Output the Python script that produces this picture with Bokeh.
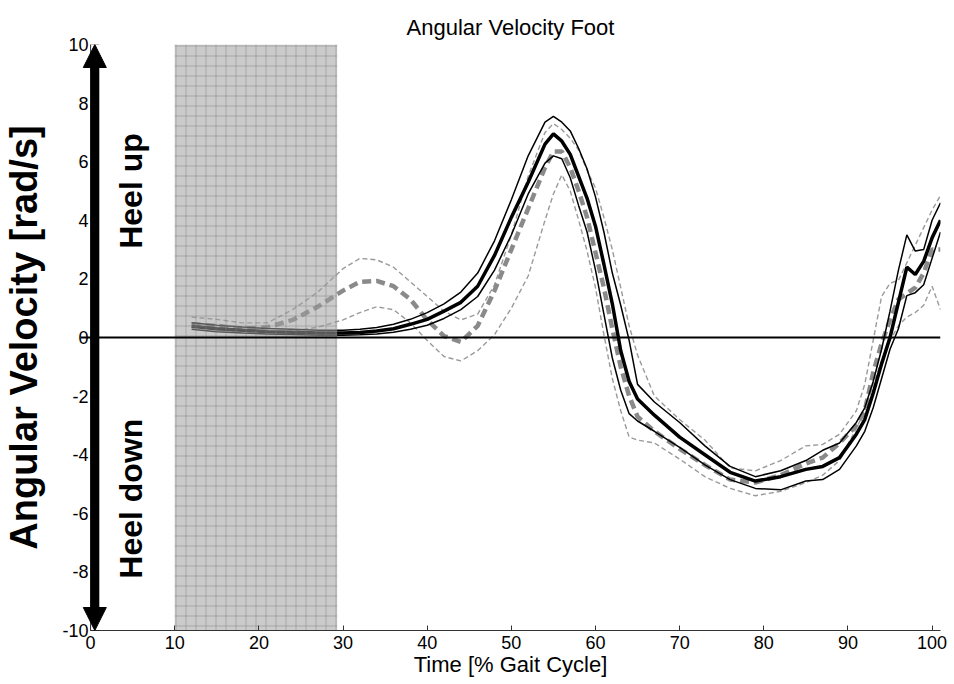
import math
from bokeh.plotting import figure
from bokeh.models import Range1d, Label, Arrow, NormalHead, Span, FixedTicker
from bokeh.embed import file_html
from bokeh.resources import INLINE

# ---- data ----
gait = [12, 15, 18, 21, 24, 27, 30, 32, 34, 36, 38, 40, 42, 44, 46, 48, 50, 52, 54, 55,
        56, 57, 58, 59, 60, 61, 62, 63, 64, 65, 67, 70, 73, 76, 79, 82, 85, 87, 89, 91,
        92, 93, 94, 95, 96, 97, 98, 99, 100, 101]

black_mean = [0.38, 0.30, 0.25, 0.20, 0.18, 0.15, 0.15, 0.17, 0.22, 0.30, 0.45, 0.62, 0.90, 1.20, 1.75, 2.8, 4.1, 5.3, 6.6, 6.95,
              6.7, 6.25, 5.5, 4.75, 3.8, 2.5, 1.15, -0.45, -1.5, -2.1, -2.65, -3.4, -4.0, -4.6, -4.9, -4.75, -4.5, -4.4, -4.1, -3.3,
              -2.8, -1.9, -0.9, 0.0, 1.2, 2.4, 2.15, 2.6, 3.4, 4.0]
black_upper = [0.50, 0.42, 0.36, 0.31, 0.28, 0.25, 0.25, 0.28, 0.34, 0.45, 0.62, 0.85, 1.15, 1.55, 2.2, 3.3, 4.7, 6.2, 7.35, 7.55,
               7.35, 7.05, 6.45, 5.75, 4.8, 3.6, 2.2, 1.1, -0.1, -1.6, -2.2, -2.9, -3.7, -4.4, -4.75, -4.55, -4.2, -3.85, -3.6, -2.9,
               -2.4, -1.5, -0.4, 0.9, 2.3, 3.5, 2.95, 3.0, 4.0, 4.6]
black_lower = [0.28, 0.20, 0.15, 0.12, 0.10, 0.08, 0.08, 0.09, 0.12, 0.18, 0.28, 0.42, 0.65, 0.95, 1.4, 2.3, 3.5, 4.9, 5.95, 6.2,
               6.1, 5.45, 4.5, 3.6, 2.3, 0.8, -0.7, -1.8, -2.6, -2.85, -3.2, -3.75, -4.35, -4.85, -5.15, -5.2, -4.9, -4.85, -4.5, -3.7,
               -3.2, -2.4, -1.4, -0.4, 0.3, 1.43, 1.53, 1.8, 2.7, 3.6]
grey_mean = [0.45, 0.40, 0.30, 0.35, 0.60, 1.05, 1.6, 1.9, 1.93, 1.75, 1.3, 0.6, 0.05, -0.15, 0.4, 1.6, 3.0, 4.4, 5.8, 6.35,
             6.35, 5.8, 5.0, 4.1, 2.9, 1.7, 0.3, -1.0, -2.0, -2.7, -3.2, -3.8, -4.35, -4.85, -4.95, -4.7, -4.3, -4.1, -3.6, -3.0,
             -2.5, -1.2, -0.2, 0.6, 1.3, 1.5, 1.7, 2.2, 3.0, 3.0]
grey_upper = [0.70, 0.62, 0.50, 0.50, 0.95, 1.55, 2.35, 2.7, 2.65, 2.4, 1.9, 1.4, 0.9, 0.6, 0.8, 1.8, 3.5, 5.5, 7.0, 7.3,
              7.1, 6.8, 6.4, 5.7, 5.1, 4.1, 3.0, 1.7, 0.4, -0.6, -2.0, -2.8, -3.5, -4.45, -4.55, -4.2, -3.7, -3.65, -3.3, -2.5,
              -1.6, -0.1, 1.4, 1.85, 1.95, 2.55, 3.15, 3.75, 4.35, 4.85]
grey_lower = [0.35, 0.25, 0.20, 0.18, 0.22, 0.35, 0.6, 0.85, 1.05, 0.95, 0.5, -0.1, -0.65, -0.8, -0.45, 0.1, 1.0, 2.1, 4.0, 4.9,
              5.55, 5.0, 4.0, 2.95, 1.7, 0.1, -1.4, -2.5, -3.4, -3.5, -3.6, -4.15, -4.75, -5.15, -5.4, -5.25, -4.95, -4.7, -4.2, -3.1,
              -2.5, -1.6, -0.8, -0.1, 0.4, 0.7, 0.85, 1.1, 1.75, 0.95]

shade_start, shade_end = 10, 29.3
x_ticks = [0, 10, 20, 30, 40, 50, 60, 70, 80, 90, 100]
y_ticks = [-10, -8, -6, -4, -2, 0, 2, 4, 6, 8, 10]
y_tick_labels = {t: str(t) for t in y_ticks}

FONT = "Liberation Sans"

p = figure(width=954, height=684, output_backend="svg", toolbar_location=None,
           x_range=Range1d(-1.2, 101), y_range=Range1d(-10, 10),
           min_border_left=80, min_border_right=14, min_border_top=44, min_border_bottom=54,
           title="Angular Velocity Foot")
p.background_fill_color = "white"
p.border_fill_color = "white"
p.outline_line_color = None
p.grid.visible = False

p.title.align = "center"
p.title.text_font = FONT
p.title.text_font_style = "normal"
p.title.text_font_size = "22px"
p.title.text_color = "black"

for ax in (p.xaxis[0], p.yaxis[0]):
    ax.major_label_text_font = FONT
    ax.major_label_text_font_size = "18px"
    ax.major_label_text_color = "black"
    ax.axis_line_color = "#333333"
    ax.major_tick_in = 5
    ax.major_tick_out = 0
    ax.minor_tick_in = 0
    ax.minor_tick_out = 0
    ax.major_tick_line_color = "#333333"
    ax.axis_label_text_color = "black"

p.xaxis.ticker = FixedTicker(ticks=x_ticks)
p.yaxis.ticker = FixedTicker(ticks=y_ticks)
p.yaxis.major_label_overrides = y_tick_labels
p.xaxis.bounds = (0, 101)
p.yaxis.axis_line_color = None
p.yaxis.major_tick_in = 0
p.xaxis.axis_label = "Time [% Gait Cycle]"
p.xaxis.axis_label_text_font = FONT
p.xaxis.axis_label_text_font_style = "normal"
p.xaxis.axis_label_text_font_size = "22px"
p.xaxis.axis_label_standoff = 0
p.xaxis.major_label_standoff = 5
p.yaxis.axis_label = "Angular Velocity [rad/s]"
p.yaxis.axis_label_text_font = FONT
p.yaxis.axis_label_text_font_style = "bold"
p.yaxis.axis_label_text_font_size = "38px"
p.yaxis.axis_label_standoff = 14
p.yaxis.major_label_standoff = -8

# y axis line at x = 0 and zero line
p.add_layout(Span(location=0, dimension="height", line_color="#333333", line_width=1))
p.add_layout(Span(location=0, dimension="width", line_color="black", line_width=2))

# grey (dashed) series
p.line(gait, grey_upper, line_color="#9a9a9a", line_width=1.4, line_dash="5 3")
p.line(gait, grey_lower, line_color="#9a9a9a", line_width=1.4, line_dash="5 3")
p.line(gait, grey_mean, line_color="#8a8a8a", line_width=4.5, line_dash="9 5")

# black series
p.line(gait, black_upper, line_color="black", line_width=1.5)
p.line(gait, black_lower, line_color="black", line_width=1.5)
p.line(gait, black_mean, line_color="black", line_width=3.5)

# shaded region overlay
p.quad(left=[shade_start], right=[shade_end], bottom=[-10], top=[10],
       fill_color="#a0a0a0", fill_alpha=0.55, line_color=None,
       hatch_pattern="+", hatch_scale=10, hatch_color="#7a7a7a", hatch_alpha=0.45, hatch_weight=1)

# big double arrow
p.add_layout(Arrow(x_start=0.5, y_start=-10, x_end=0.5, y_end=10, line_width=9, line_color="black",
                   start=NormalHead(size=23, fill_color="black", line_color="black"),
                   end=NormalHead(size=23, fill_color="black", line_color="black")))

p.add_layout(Label(x=4.8, y=5.0, text="Heel up", angle=math.pi / 2, text_align="center",
                   text_baseline="middle", text_font=FONT, text_font_style="bold",
                   text_font_size="32px", text_color="black"))
p.add_layout(Label(x=4.8, y=-5.5, text="Heel down", angle=math.pi / 2, text_align="center",
                   text_baseline="middle", text_font=FONT, text_font_style="bold",
                   text_font_size="32px", text_color="black"))

open("out.html", "w").write(file_html(p, INLINE))
